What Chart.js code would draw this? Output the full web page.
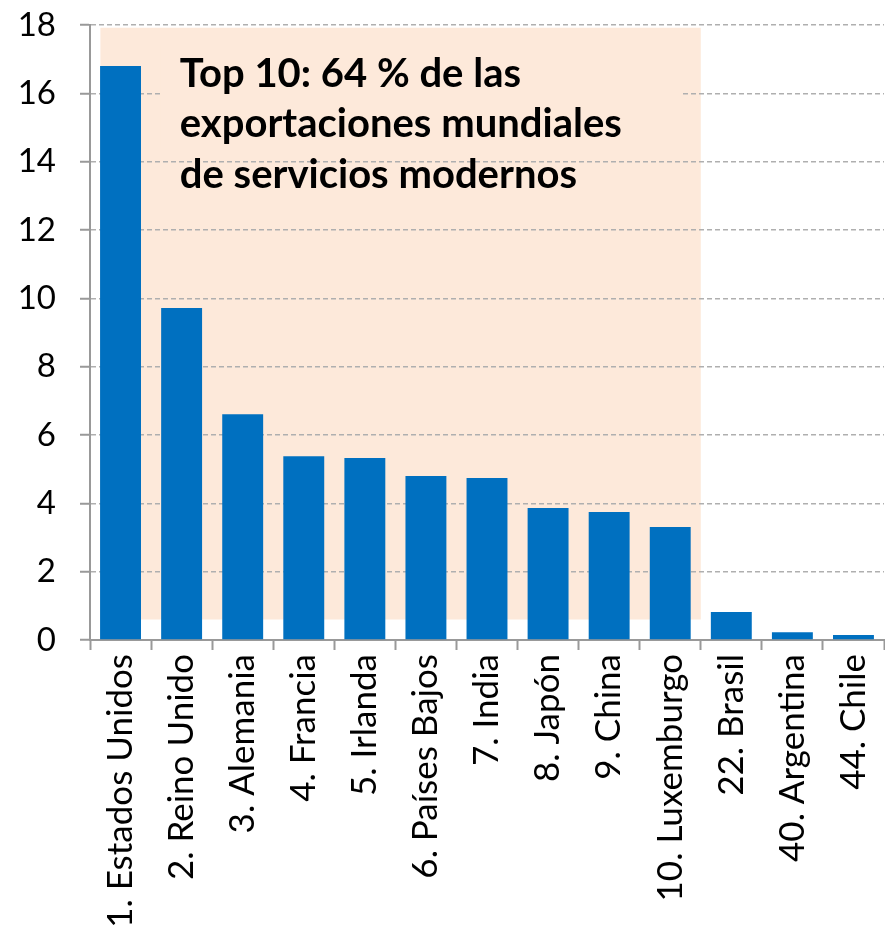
<!DOCTYPE html>
<html>
<head>
<meta charset="utf-8">
<script src="https://cdn.jsdelivr.net/npm/chart.js@4/dist/chart.umd.min.js"></script>
<style>
  html, body { margin: 0; padding: 0; background: #fff; overflow: hidden; }
  #wrap { width: 885px; height: 1000px; }
</style>
</head>
<body>
<div id="wrap"><canvas id="chart" width="885" height="1000"></canvas></div>
<script>
const countries = [
  '1. Estados Unidos', '2. Reino Unido', '3. Alemania', '4. Francia', '5. Irlanda',
  '6. Países Bajos', '7. India', '8. Japón', '9. China', '10. Luxemburgo',
  '22. Brasil', '40. Argentina', '44. Chile'
];
const shares = [16.8, 9.72, 6.61, 5.38, 5.33, 4.8, 4.74, 3.86, 3.75, 3.31, 0.82, 0.23, 0.15];
const yTicks = [0, 2, 4, 6, 8, 10, 12, 14, 16, 18];
const noteLines = ['Top 10: 64 % de las', 'exportaciones mundiales', 'de servicios modernos'];

const FONT = 'Lato, Carlito, Calibri, sans-serif';
const SHADE = '#FDE9DA';

// peach band behind the top 10 + text box
const topTen = {
  id: 'topTen',
  beforeDraw(chart) {
    const { ctx, scales: { x, y } } = chart;
    const step = x.getPixelForValue(1) - x.getPixelForValue(0);
    const left = x.getPixelForValue(0) - step * 0.33;
    const right = x.getPixelForValue(9) + step * 0.5;
    ctx.save();
    ctx.fillStyle = SHADE;
    ctx.fillRect(left, y.getPixelForValue(17.92), right - left, y.getPixelForValue(0.6) - y.getPixelForValue(17.92));
    ctx.restore();
  },
  beforeDatasetsDraw(chart) {
    const { ctx, scales: { x, y } } = chart;
    const left = x.getPixelForValue(0.65);
    const right = x.getPixelForValue(9.19);
    const top = y.getPixelForValue(17.4);
    const bottom = y.getPixelForValue(14.4);
    ctx.save();
    ctx.fillStyle = SHADE;
    ctx.fillRect(left, top, right - left, bottom - top);
    ctx.fillStyle = '#000';
    ctx.font = 'bold 40px ' + FONT;
    ctx.textBaseline = 'alphabetic';
    const tx = x.getPixelForValue(0.97);
    noteLines.forEach((line, i) => {
      ctx.fillText(line, tx, y.getPixelForValue(16.2) + i * 50.5);
    });
    ctx.restore();
  }
};

new Chart(document.getElementById('chart'), {
  type: 'bar',
  data: {
    labels: countries,
    datasets: [{
      data: shares,
      backgroundColor: '#0070C0',
      categoryPercentage: 1,
      barPercentage: 0.67
    }]
  },
  options: {
    responsive: false,
    animation: false,
    layout: { padding: { top: 25, right: 1, left: 0, bottom: 0 } },
    plugins: { legend: { display: false }, tooltip: { enabled: false } },
    scales: {
      x: {
        afterFit(scale) {
          scale.height = 360;
          scale.paddingLeft = 0;
          scale.paddingRight = 0;
        },
        grid: {
          display: true,
          drawOnChartArea: false,
          drawTicks: true,
          tickLength: 10,
          tickColor: '#999',
          tickWidth: 2,
          offset: true
        },
        border: { color: '#999', width: 2 },
        ticks: {
          color: '#000',
          font: { family: FONT, size: 35 },
          minRotation: 90,
          maxRotation: 90,
          autoSkip: false,
          padding: 4
        }
      },
      y: {
        min: 0,
        max: 18,
        afterFit(scale) {
          scale.width = 90;
          scale.paddingTop = 0;
          scale.paddingBottom = 0;
        },
        afterBuildTicks(scale) { scale.ticks = yTicks.map(v => ({ value: v })); },
        grid: {
          color: '#AFAFAF',
          lineWidth: 1.5,
          tickLength: 10,
          tickColor: '#999',
          tickWidth: 2
        },
        border: { color: '#999', width: 2, dash: [5, 3] },
        ticks: {
          color: '#000',
          font: { family: FONT, size: 33 },
          padding: 24
        }
      }
    }
  },
  plugins: [topTen]
});
</script>
</body>
</html>
